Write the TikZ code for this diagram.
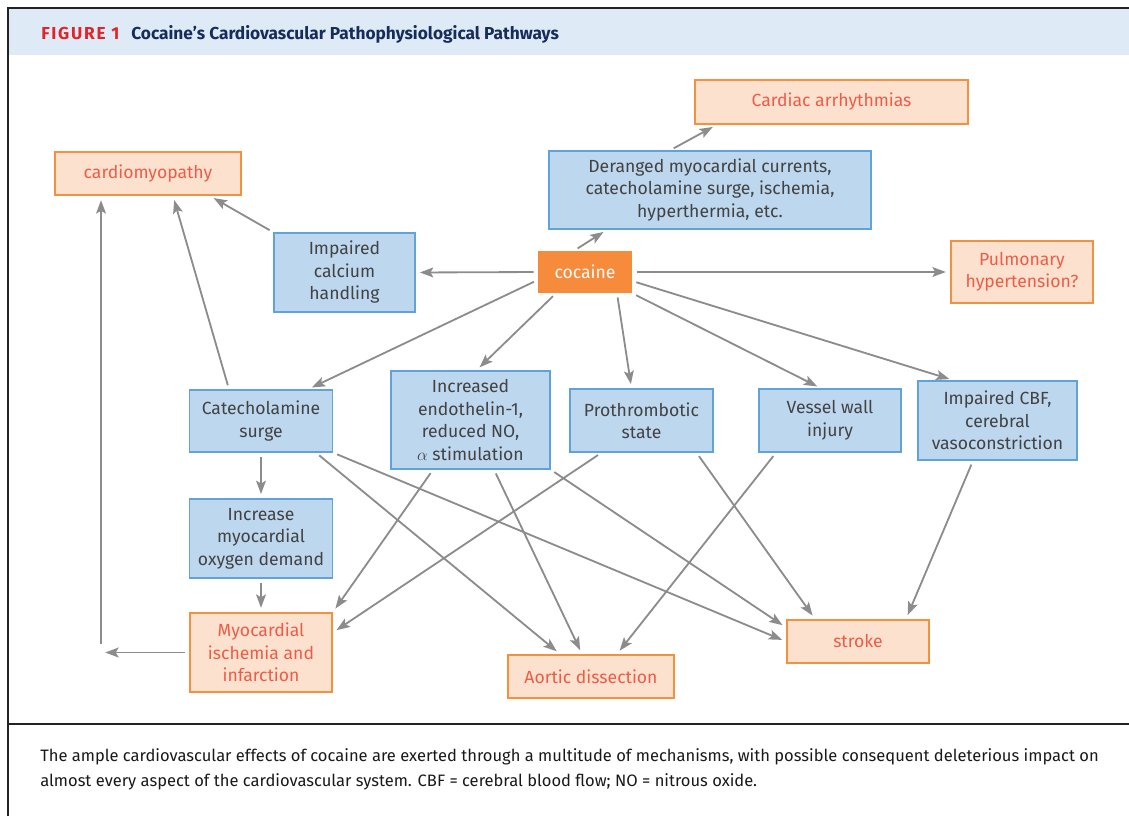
\documentclass[tikz,border=0pt]{standalone}
\usepackage{fontspec}
\setmainfont{Fira Sans}
\usetikzlibrary{arrows.meta,positioning,calc}

\definecolor{capred}{RGB}{226,35,42}
\definecolor{capnavy}{RGB}{22,45,92}
\definecolor{bandblue}{RGB}{222,234,246}
\definecolor{mechfill}{RGB}{189,215,238}
\definecolor{mechline}{RGB}{95,163,218}
\definecolor{mechtext}{RGB}{66,66,66}
\definecolor{efffill}{RGB}{252,226,206}
\definecolor{effline}{RGB}{242,146,64}
\definecolor{efftext}{RGB}{238,92,72}
\definecolor{cocfill}{RGB}{245,139,59}
\definecolor{arrowgray}{RGB}{140,140,142}
\definecolor{framegray}{RGB}{34,34,34}

\newcommand{\boxfont}{\fontsize{12.5}{16}\selectfont}
\newcommand{\capfont}{\fontsize{11.75}{17.7}\selectfont}
\newcommand{\ttlfont}{\fontsize{12.3}{14}\selectfont\bfseries}

\begin{document}
\begin{tikzpicture}[
  x=0.025cm, y=-0.025cm,
  % ---- Node styles ----
  box/.style 2 args={minimum width=#1*0.025cm, minimum height=#2*0.025cm},
  base/.style={rectangle, align=center, inner sep=0pt, font=\boxfont},
  mech/.style={base, draw=mechline, fill=mechfill, text=mechtext, line width=1pt},
  effect/.style={base, draw=effline, fill=efffill, text=efftext, line width=1.4pt},
  drug/.style={base, fill=cocfill, text=white},
  % ---- Lines ----
  line/.style={-{Stealth[length=9.5pt, width=7pt, inset=2pt]}, draw=arrowgray,
               line width=1.3pt, shorten >=3pt, shorten <=3pt}
]
\useasboundingbox (0,0) rectangle (1129,816);

% ===== Frame & title band =====
\fill[bandblue] (9,9) rectangle (1129,55);
\draw[framegray, line width=1.5pt] (8,816) -- (8,8) -- (1129,8);
\draw[framegray, line width=1.2pt] (8,724) -- (1129,724);
\node[anchor=base west, inner sep=0pt, text=capred,
      font=\ttlfont\addfontfeatures{LetterSpace=10}] (fig) at (41,39) {FIGURE 1};
\node[anchor=base west, inner sep=0pt, text=capnavy, font=\ttlfont] (ttl) at (131,39)
  {Cocaine’s Cardiovascular Pathophysiological Pathways};

% ===== Top row =====
\node[effect, box={273}{44}] (arr) at (831.5,102) {Cardiac arrhythmias};
\node[mech,   box={322}{78}] (der) at (710,190)
  {Deranged myocardial currents,\\catecholamine surge, ischemia,\\hyperthermia, etc.};
\node[effect, box={186}{43}] (cmy) at (148,173.5) {cardiomyopathy};

% ===== Cocaine row =====
\node[mech,   box={141}{79}] (cal) at (344.5,272.5) {Impaired\\calcium\\handling};
\node[drug,   box={94}{42}]  (coc) at (585,272) {cocaine};
\node[effect, box={142}{62}] (pul) at (1022,272) {Pulmonary\\hypertension?};

% ===== Mechanisms =====
\node[mech, box={143}{62}] (cat)  at (261,421) {Catecholamine\\surge};
\node[mech, box={159}{98}] (endo) at (470.5,420)
  {Increased\\endothelin-1,\\reduced NO,\\$\alpha$ stimulation};
\node[mech, box={143}{63}] (pro)  at (641.5,420.5) {Prothrombotic\\state};
\node[mech, box={142}{63}] (ves)  at (830,420.5) {Vessel wall\\injury};
\node[mech, box={159}{79}] (cbf)  at (997.5,420.5) {Impaired CBF,\\cerebral\\vasoconstriction};
\node[mech, box={143}{79}] (dem)  at (261,538.5) {Increase\\myocardial\\oxygen demand};

% ===== Outcomes =====
\node[effect, box={142}{79}] (myo) at (261,652.5) {Myocardial\\ischemia and\\infarction};
\node[effect, box={166}{43}] (aor) at (591,676.5) {Aortic dissection};
\node[effect, box={142}{43}] (str) at (858,641.5) {stroke};

% ===== Connections =====
\draw[line] ($(coc.north)+(-11,0)$) -- ($(der.south)+(-103,0)$);
\draw[line] ($(der.north)+(-40,0)$) -- ($(arr.south)+(-115,0)$);
\draw[line] (cal.north west) -- ($(cmy.south)+(62,0)$);
\draw[line] (coc.west) -- (cal.east);
\draw[line] (coc.east) -- (pul.west);

% fan-out from cocaine
\draw[line] ($(coc.west)+(0,8)$)    -- ($(cat.north)+(47,0)$);
\draw[line] ($(coc.south)+(-29,0)$) -- ($(endo.north)+(6,0)$);
\draw[line] ($(coc.south)+(32,0)$)  -- ($(pro.north)+(-10,0)$);
\draw[line] (coc.south east)        -- ($(ves.north)+(-9,0)$);
\draw[line] ($(coc.east)+(0,9)$)    -- ($(cbf.north)+(-44,0)$);

% catecholamine surge
\draw[line] ($(cat.north)+(-32,0)$) -- ($(cmy.south)+(25,0)$);
\draw[line] (cat) -- (dem);
\draw[line] ($(cat.south)+(55,0)$)  -- ($(aor.north)+(-31,0)$);
\draw[line] (cat.south east)        -- (str.west);

% endothelin / prothrombotic / vessel wall / CBF
\draw[line] ($(endo.south)+(-37.5,0)$) -- (myo.north east);
\draw[line] ($(endo.south)+(23.5,0)$)  -- ($(aor.north)+(-9,0)$);
\draw[line] (endo.south east)          -- ($(str.west)+(0,-14)$);
\draw[line] ($(pro.south)+(-40,0)$) -- ($(myo.east)+(0,-20)$);
\draw[line] ($(pro.south)+(55,0)$)  -- ($(str.north)+(-43,0)$);
\draw[line] ($(ves.south)+(-54,0)$) -- ($(aor.north)+(26,0)$);
\draw[line] ($(cbf.south)+(-24.5,0)$) -- ($(str.north)+(48,0)$);

\draw[line] (dem) -- (myo);

% ischemia back to cardiomyopathy (left margin)
\coordinate (loopc) at ($(myo.west)+(-88,0)$);
\draw[line] (myo.west) -- (loopc);
\draw[line] ($(loopc)+(0,-4)$) -- (loopc |- cmy.south);

% ===== Caption =====
\node[anchor=north west, align=left, inner sep=0pt, font=\capfont, text=black!90] (cap) at (40,748)
  {The ample cardiovascular effects of cocaine are exerted through a multitude of mechanisms, with possible consequent deleterious impact on\\
   almost every aspect of the cardiovascular system. CBF = cerebral blood flow; NO = nitrous oxide.};

\end{tikzpicture}
\end{document}
